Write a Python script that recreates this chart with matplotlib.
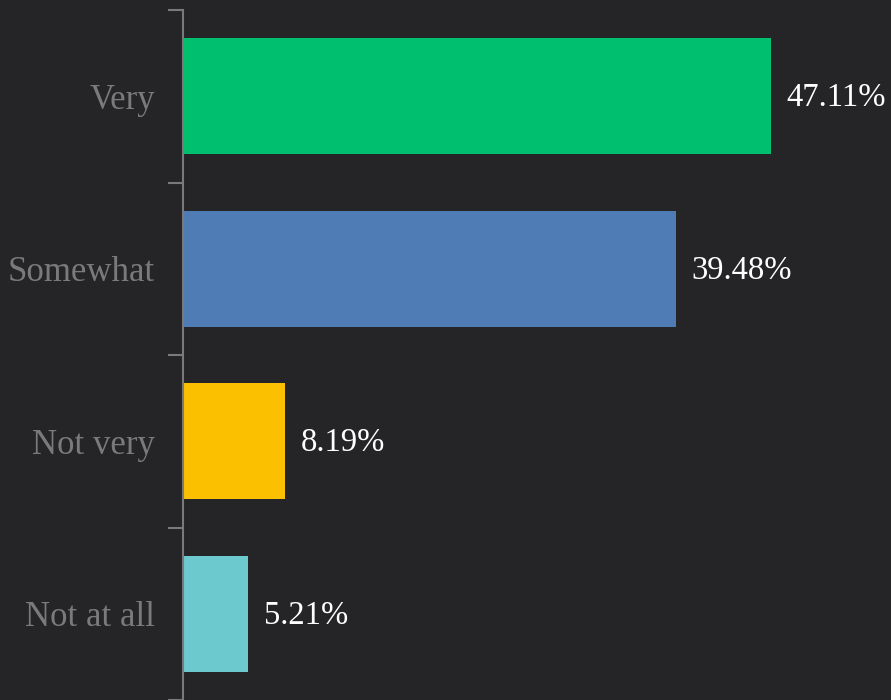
import numpy as np
import matplotlib.pyplot as plt

categories = ["Very", "Somewhat", "Not very", "Not at all"]
shares = [47.11, 39.48, 8.19, 5.21]
value_labels = ["47.11%", "39.48%", "8.19%", "5.21%"]
bar_colors = ["#00BF6F", "#507CB6", "#FBC000", "#6CC9CE"]

bg = "#252527"
axis_gray = "#7a7a7a"

plt.rcParams["font.family"] = ["Liberation Serif", "DejaVu Serif"]

fig = plt.figure(figsize=(8.91, 7.0), dpi=100, facecolor=bg)
ax = fig.add_axes([183 / 891, 0, 1 - 183 / 891, 690 / 700])
ax.set_facecolor(bg)

y = np.arange(len(categories))
ax.barh(y, shares, height=0.67, color=bar_colors, zorder=2)

for yi, val, lab in zip(y, shares, value_labels):
    ax.text(val + 1.25, yi + 0.01, lab, va="center", ha="left",
            color="white", fontsize=23.5)

ax.set_xlim(0, 56.7)
ax.set_ylim(len(categories) - 0.5, -0.5)

# category names sit between the tick marks
ax.set_yticks(y)
ax.set_yticklabels(categories)
ax.tick_params(axis="y", which="major", length=0, pad=20,
               labelsize=25, labelcolor=axis_gray)
ax.set_yticks(np.arange(-0.5, len(categories), 1), minor=True)
ax.tick_params(axis="y", which="minor", length=11, width=1.5,
               color=axis_gray)
ax.set_xticks([])

for side in ["top", "right", "bottom"]:
    ax.spines[side].set_visible(False)
ax.spines["left"].set_color(axis_gray)
ax.spines["left"].set_linewidth(1.5)

fig.savefig("out.png", dpi=100, facecolor=bg)
